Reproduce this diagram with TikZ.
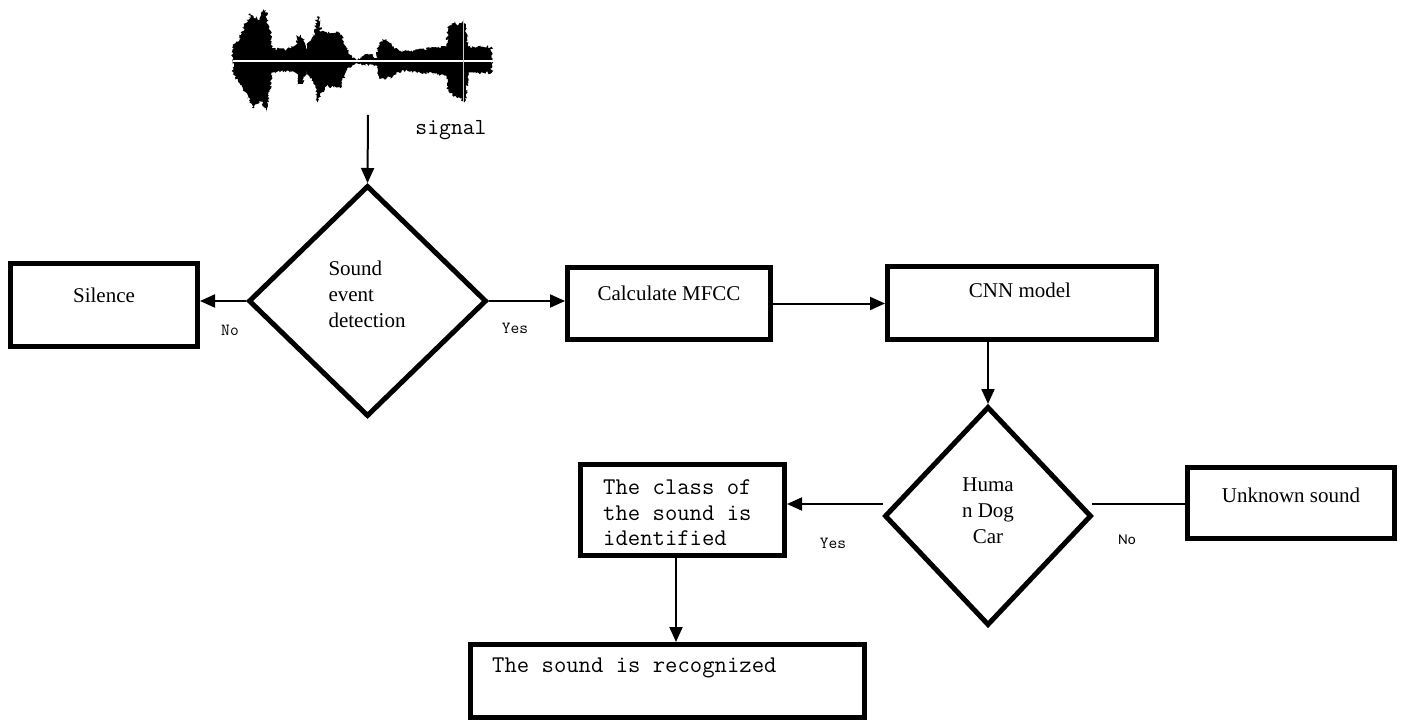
\documentclass[tikz,border=0pt]{standalone}
\usepackage{fontspec}
\setmainfont{Liberation Serif}
\newfontfamily\carl{Carlito}
\usetikzlibrary{arrows.meta,shapes.geometric,decorations.pathmorphing}
\begin{document}
\begin{tikzpicture}[x=1pt,y=-1pt,
  box/.style={draw, line width=5pt, inner sep=0pt, rectangle},
  dia/.style={draw, line width=5pt, inner sep=0pt, diamond},
  conn/.style={line width=2pt, -{Triangle[length=15pt,width=13pt]}},
  plain/.style={line width=1.5pt},
  serif/.style={font=\fontsize{21pt}{26pt}\selectfont, inner sep=0pt},
  mono/.style={font=\ttfamily\fontsize{24pt}{25.5pt}\selectfont, inner sep=0pt},
  lblmono/.style={font=\ttfamily\fontsize{17pt}{19pt}\selectfont, inner sep=0pt},
  lblsans/.style={font=\carl\fontsize{15pt}{18pt}\selectfont, inner sep=0pt}]
\useasboundingbox[fill=white] (0,0) rectangle (1401,722);

% waveform
\begin{scope}[shift={(220,0)}, scale=1/3]
\pgfmathsetseed{7}
\fill[black, decorate, decoration={random steps, segment length=1.2pt, amplitude=1.6pt}]
 (38,183) -- (38,140) -- (55,125) -- (65,100) -- (75,70) -- (85,60) -- (90,40) -- (98,55) -- (110,50) -- (118,60) -- (125,35) -- (130,28) -- (138,30) -- (142,60) -- (150,90) -- (155,145) -- (200,150) -- (215,143) -- (228,135) -- (232,108) -- (242,105) -- (250,120) -- (258,145) -- (275,115) -- (285,100) -- (290,52) -- (298,50) -- (302,95) -- (330,100) -- (355,95) -- (372,125) -- (385,160) -- (400,175) -- (420,178) -- (430,168) -- (445,162) -- (460,165) -- (470,175) -- (475,135) -- (490,118) -- (505,125) -- (520,140) -- (540,152) -- (570,155) -- (600,148) -- (650,142) -- (680,140) -- (685,85) -- (695,70) -- (705,65) -- (715,75) -- (722,70) -- (730,60) -- (738,90) -- (745,140) -- (815,140) -- (815,183)
 -- (815,218) -- (745,218) -- (738,300) -- (730,305) -- (720,295) -- (705,288) -- (690,280) -- (685,272) -- (680,225) -- (600,218) -- (545,212) -- (520,228) -- (500,235) -- (478,235) -- (472,198) -- (445,195) -- (420,190) -- (400,194) -- (385,202) -- (375,222) -- (360,265) -- (320,258) -- (300,285) -- (292,308) -- (285,255) -- (280,245) -- (258,212) -- (250,248) -- (240,252) -- (235,252) -- (230,218) -- (200,212) -- (155,218) -- (150,275) -- (138,335) -- (128,305) -- (115,305) -- (100,325) -- (90,305) -- (75,275) -- (60,250) -- (45,232) -- (38,222) -- cycle;
\draw[white, line width=1.5pt] (38,183) -- (815,183);
\draw[gray!40, line width=1.2pt] (730,60) -- (730,305);
\end{scope}

\node[lblmono, font=\ttfamily\fontsize{23pt}{26pt}\selectfont] (sig) at (451,130) {signal};
\coordinate (sigout) at (368,115);

% nodes
\node[dia, minimum width=238pt, minimum height=231pt] (d1) at (367.5,301) {};
\node[serif, align=left] (d1t) at (367,294) {Sound\\event\\detection};

\node[box, minimum width=187pt, minimum height=83pt] (sil) at (104,305) {};
\node[serif] (silt) at (104,295) {Silence};

\node[box, minimum width=203pt, minimum height=72pt] (mfcc) at (669,303.5) {};
\node[serif] (mfcct) at (669,293) {Calculate MFCC};

\node[box, minimum width=269pt, minimum height=73pt] (cnn) at (1022,303) {};
\node[serif] (cnnt) at (1020,290) {CNN model};

\node[dia, minimum width=207pt, minimum height=219pt] (d2) at (988,516) {};
\node[serif, align=center] (d2t) at (988,511) {Huma\\n Dog\\Car};

\node[box, minimum width=204pt, minimum height=91pt] (cls) at (682.5,510) {};
\node[mono, align=left, anchor=west] (clst) at (603,513) {The class of\\the sound is\\identified};

\node[box, minimum width=207pt, minimum height=71pt] (unk) at (1291,503) {};
\node[serif] (unkt) at (1291,495) {Unknown sound};

\node[box, minimum width=394pt, minimum height=73pt] (rec) at (667.5,681) {};
\node[mono, anchor=west] (rect) at (492,668) {The sound is recognized};

% labels
\node[lblmono] (lno1) at (230,330) {No};
\node[lblmono] (lyes1) at (515,328) {Yes};
\node[lblmono] (lyes2) at (833,543) {Yes};
\node[lblsans] (lno2) at (1127,540) {No};

% connectors
\draw[conn] (sigout) -- (d1.north);
\draw[conn] (d1.west) -- (d1.west -| sil.east);
\draw[conn] (d1.east) -- (d1.east -| mfcc.west);
\draw[conn] (mfcc.east) -- (mfcc.east -| cnn.west);
\draw[conn] (d2.north |- cnn.south) -- (d2.north);
\coordinate (d2l) at (883,504);
\coordinate (d2r) at (1092,504);
\draw[conn] (d2l) -- (d2l -| cls.east);
\draw[plain] (d2r) -- (d2r -| unk.west);
\coordinate (clsout) at ([xshift=-6.5pt]cls.south);
\draw[conn] (clsout) -- (clsout |- rec.north);
\end{tikzpicture}
\end{document}
